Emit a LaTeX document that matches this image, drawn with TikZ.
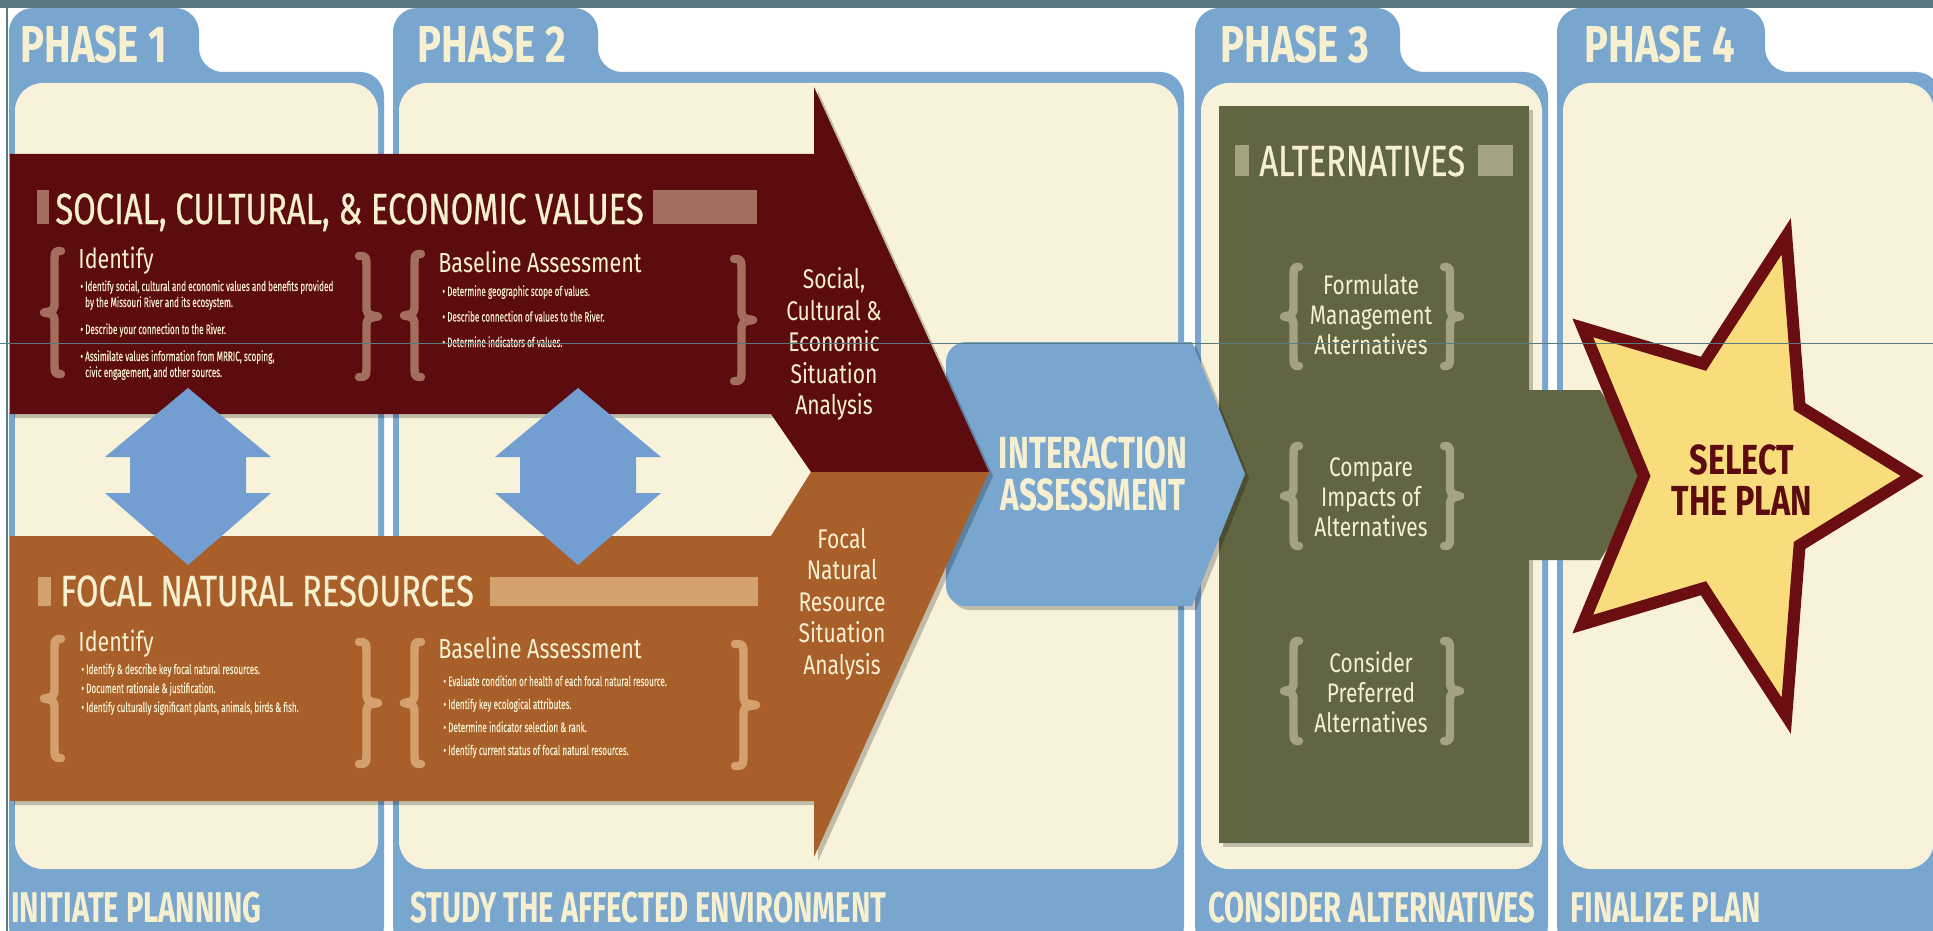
\documentclass[tikz,border=0pt]{standalone}
\usepackage{fontspec}
\setmainfont{Fira Sans}
\newfontfamily\phasefont{Fira Sans}[FakeStretch=0.77]
\newfontfamily\capsfont{Fira Sans}[FakeStretch=0.7]
\newfontfamily\bandfont{Fira Sans}[FakeStretch=0.68]
\newfontfamily\titlefont{Fira Sans}[FakeStretch=0.75, FakeBold=0.6]
\newfontfamily\bodyfont{Fira Sans}[FakeStretch=0.78]
\newfontfamily\smallfont{Fira Sans}[FakeStretch=0.6, FakeBold=0.3]
\usetikzlibrary{shadows}

\definecolor{topbar}{HTML}{587B80}
\definecolor{panelblue}{HTML}{78A6CF}
\definecolor{panelcream}{HTML}{F7F2D9}
\definecolor{socialred}{HTML}{5C0B0E}
\definecolor{socialaccent}{HTML}{A36E5E}
\definecolor{naturalorange}{HTML}{A85F2A}
\definecolor{naturalaccent}{HTML}{D4A06E}
\definecolor{altgreen}{HTML}{626542}
\definecolor{altaccent}{HTML}{A5A284}
\definecolor{labelcream}{HTML}{F6F0D0}
\definecolor{starfill}{HTML}{F9DD7D}
\definecolor{starline}{HTML}{6B0E12}

\newcommand\phasepanel[3]{%
  \fill[panelblue, rounded corners=12] (#1,950) -- (#1,8) -- (#3,8) -- (#3,72) -- (#2,72) -- (#2,950) -- cycle;
  \fill[panelcream, rounded corners=14] (#1+6,83) rectangle (#2-6,869);}

\newcommand\leftcurly[5]{%
  \pgfmathsetmacro\cxl{#2+4}\pgfmathsetmacro\cxr{#3-2}\pgfmathsetmacro\cxs{(#2+#3)/2+3}%
  \pgfmathsetmacro\cyt{#4+4}\pgfmathsetmacro\cyb{#5-4}\pgfmathsetmacro\cym{(#4+#5)/2}%
  \draw[curly, #1] (\cxr,\cyt) .. controls (\cxs,\cyt) .. (\cxs,\cyt+14) -- (\cxs,\cym-12)
    .. controls (\cxs,\cym-2) .. (\cxl,\cym) .. controls (\cxs,\cym+2) .. (\cxs,\cym+12)
    -- (\cxs,\cyb-14) .. controls (\cxs,\cyb) .. (\cxr,\cyb);}

\newcommand\rightcurly[5]{%
  \pgfmathsetmacro\cxl{#3-4}\pgfmathsetmacro\cxr{#2+2}\pgfmathsetmacro\cxs{(#2+#3)/2-3}%
  \pgfmathsetmacro\cyt{#4+4}\pgfmathsetmacro\cyb{#5-4}\pgfmathsetmacro\cym{(#4+#5)/2}%
  \draw[curly, #1] (\cxr,\cyt) .. controls (\cxs,\cyt) .. (\cxs,\cyt+14) -- (\cxs,\cym-12)
    .. controls (\cxs,\cym-2) .. (\cxl,\cym) .. controls (\cxs,\cym+2) .. (\cxs,\cym+12)
    -- (\cxs,\cyb-14) .. controls (\cxs,\cyb) .. (\cxr,\cyb);}

\newcommand\linkarrow[1]{%
  \fill[linkblue] (#1,388) -- (#1+83,457) -- (#1+58,457) -- (#1+58,493) -- (#1+83,493) -- (#1,565)
    -- (#1-83,493) -- (#1-58,493) -- (#1-58,457) -- (#1-83,457) -- cycle;}

\begin{document}
\begin{tikzpicture}[x=0.5pt, y=-0.5pt,
    softshadow/.style={drop shadow={shadow xshift=2pt, shadow yshift=-2pt, opacity=0.22, fill=black}},
    curly/.style={line width=4.2pt, line cap=round, line join=round},
    linkblue/.style={fill=panelblue!95!blue},
    phaselabel/.style={font=\phasefont\bfseries\fontsize{26}{26}\selectfont, text=labelcream, anchor=base west, inner sep=0},
    bandlabel/.style={font=\bandfont\bfseries\fontsize{21.5}{21.5}\selectfont, text=labelcream, anchor=base west, inner sep=0},
    heading/.style={font=\titlefont\fontsize{21.8}{21.8}\selectfont, text=labelcream, anchor=base west, inner sep=0},
    subhead/.style={font=\bodyfont\fontsize{13.8}{14}\selectfont, text=labelcream, anchor=base west, inner sep=0},
    bullets/.style={font=\smallfont\fontsize{6.8}{8}\selectfont, text=labelcream, anchor=north west, inner sep=0, align=left},
    analysis/.style={font=\bodyfont\fontsize{13.5}{15.75}\selectfont, text=labelcream, align=center, inner sep=0},
    altitem/.style={font=\bodyfont\fontsize{13.4}{15}\selectfont, text=labelcream, align=center, inner sep=0},
    bigcaps/.style={font=\capsfont\bfseries\fontsize{22.5}{21}\selectfont, align=center, inner sep=0},
    starcaps/.style={font=\phasefont\bfseries\fontsize{21}{20.5}\selectfont, align=center, inner sep=0}]
  \useasboundingbox (0,0) rectangle (1933,931);
  \clip (0,0) rectangle (1933,931);
  \fill[white] (0,0) rectangle (1933,931);

  \phasepanel{9}{384}{199}
  \phasepanel{393}{1184}{598}
  \phasepanel{1195}{1548}{1400}
  \phasepanel{1557}{1940}{1765}
  \fill[topbar] (0,0) rectangle (1933,8);

  \fill[altgreen, softshadow] (1219,106) rectangle (1529,843);
  \fill[altgreen] (1525,390) -- (1600,390) -- (1655,475) -- (1600,560) -- (1525,560) -- cycle;
  \fill[panelblue, softshadow] (1192,342) -- (1245,474) -- (1192,606) -- (966,606)
    .. controls (955,606) and (946,597) .. (946,586) -- (946,362)
    .. controls (946,351) and (955,342) .. (966,342) -- cycle;

  \fill[socialred, softshadow] (10,154) -- (814,154) -- (814,87) -- (989,472) -- (811,472) -- (771,414) -- (10,414) -- cycle;
  \fill[naturalorange, softshadow] (10,536) -- (771,536) -- (811,472) -- (989,472) -- (814,857) -- (814,801) -- (10,801) -- cycle;

  \fill[socialaccent] (37,190) rectangle (49,224);
  \fill[socialaccent] (653,190) rectangle (757,224);
  \fill[naturalaccent] (38,577) rectangle (51,606);
  \fill[naturalaccent] (490,577) rectangle (758,606);
  \fill[altaccent] (1235,145) rectangle (1249,176);
  \fill[altaccent] (1478,145) rectangle (1513,176);

  \leftcurly{socialaccent}{40}{63}{247}{378}
  \rightcurly{socialaccent}{357}{382}{252}{381}
  \leftcurly{socialaccent}{400}{423}{250}{381}
  \rightcurly{socialaccent}{732}{757}{255}{385}
  \leftcurly{naturalaccent}{40}{63}{635}{762}
  \rightcurly{naturalaccent}{357}{382}{638}{768}
  \leftcurly{naturalaccent}{400}{423}{638}{768}
  \rightcurly{naturalaccent}{733}{760}{640}{770}
  \foreach \top/\bot in {263/370, 442/550, 637/745} {
    \leftcurly{altaccent}{1280}{1301}{\top}{\bot}
    \rightcurly{altaccent}{1442}{1464}{\top}{\bot}
  }

  \linkarrow{188}
  \linkarrow{578}

  \draw[line width=6pt, draw=starline, fill=starfill, line join=miter, softshadow]
    (1912,476) \foreach \a in {72,144,...,360} {
      -- ({1730+86*cos(\a-36)},{476+118*sin(\a-36)}) -- ({1730+182*cos(\a)},{476+252*sin(\a)}) } -- cycle;

  \node[phaselabel] (phase1) at (20,63) {PHASE 1};
  \node[phaselabel] (phase2) at (417,63) {PHASE 2};
  \node[phaselabel] (phase3) at (1220,63) {PHASE 3};
  \node[phaselabel] (phase4) at (1584,63) {PHASE 4};

  \node[bandlabel] (band1) at (11,922) {INITIATE PLANNING};
  \node[bandlabel] (band2) at (410,922) {STUDY THE AFFECTED ENVIRONMENT};
  \node[bandlabel] (band3) at (1208,922) {CONSIDER ALTERNATIVES};
  \node[bandlabel] (band4) at (1570,922) {FINALIZE PLAN};

  \node[heading] (socialtitle) at (55,224) {SOCIAL, CULTURAL, \& ECONOMIC VALUES};
  \node[heading] (naturaltitle) at (60,606) {FOCAL NATURAL RESOURCES};
  \node[heading] (alttitle) at (1259,176) {ALTERNATIVES};

  \node[subhead] (socialid) at (78,268) {Identify};
  \node[subhead] (socialbase) at (438,272) {Baseline Assessment};
  \node[subhead] (naturalid) at (78,651) {Identify};
  \node[subhead] (naturalbase) at (438,658) {Baseline Assessment};

  \node[bullets] (socialidlist) at (80,280) {%
    \textbullet\ Identify social, cultural and economic values and benefits provided\\
    \hphantom{\textbullet\ }by the Missouri River and its ecosystem.\\[5.5pt]
    \textbullet\ Describe your connection to the River.\\[5.5pt]
    \textbullet\ Assimilate values information from MRRIC, scoping,\\
    \hphantom{\textbullet\ }civic engagement, and other sources.};
  \node[bullets] (socialbaselist) at (442,285) {%
    \textbullet\ Determine geographic scope of values.\\[4.75pt]
    \textbullet\ Describe connection of values to the River.\\[4.75pt]
    \textbullet\ Determine indicators of values.};
  \node[bullets] (naturalidlist) at (81,663) {%
    \textbullet\ Identify \& describe key focal natural resources.\\[1.5pt]
    \textbullet\ Document rationale \& justification.\\[1.5pt]
    \textbullet\ Identify culturally significant plants, animals, birds \& fish.};
  \node[bullets] (naturalbaselist) at (443,675) {%
    \textbullet\ Evaluate condition or health of each focal natural resource.\\[3.5pt]
    \textbullet\ Identify key ecological attributes.\\[3.5pt]
    \textbullet\ Determine indicator selection \& rank.\\[3.5pt]
    \textbullet\ Identify current status of focal natural resources.};

  \node[analysis] (socialsit) at (834,344) {Social,\\Cultural \&\\Economic\\Situation\\Analysis};
  \node[analysis] (naturalsit) at (842,604) {Focal\\Natural\\Resource\\Situation\\Analysis};

  \node[bigcaps, text=labelcream] (interaction) at (1093,474) {INTERACTION\\ASSESSMENT};

  \node[altitem] (formulate) at (1371,315) {Formulate\\Management\\Alternatives};
  \node[altitem] (compare) at (1371,497) {Compare\\Impacts of\\Alternatives};
  \node[altitem] (consider) at (1371,692) {Consider\\Preferred\\Alternatives};

  \node[starcaps, text=socialred] (selectplan) at (1742,480) {SELECT\\THE PLAN};

  \draw[topbar, line width=0.5pt] (0,343) -- (1933,343);
  \draw[topbar, line width=0.8pt] (7,0) -- (7,931);
\end{tikzpicture}
\end{document}
